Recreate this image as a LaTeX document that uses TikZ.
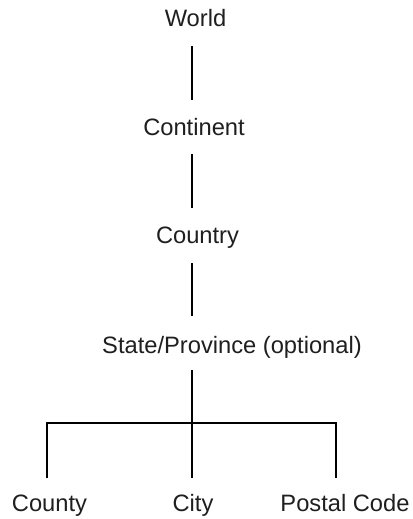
\documentclass[tikz,border=0pt]{standalone}
\usepackage{fontspec}
\setmainfont{Liberation Sans}
\usetikzlibrary{calc}
\begin{document}
\begin{tikzpicture}[x=1pt,y=1pt,
  lbl/.style={anchor=base,inner sep=0pt,text height=17pt,text depth=5pt,
    font=\fontsize{23.7}{28}\selectfont,text=black!88},
  conn/.style={line width=2.8pt,draw=black,line join=miter}]
\useasboundingbox[fill=white] (0,0) rectangle (412,-519);
\node[lbl] (world) at (195.5,-27) {World};
\node[lbl] (continent) at (194,-135) {Continent};
\node[lbl] (country) at (197.5,-243) {Country};
\node[lbl] (state) at (232,-353) {State/Province (optional)};
\node[lbl] (county) at (49.5,-511) {County};
\node[lbl] (city) at (193,-511) {City};
\node[lbl] (postal) at (345,-511) {Postal Code};
\coordinate (spine) at (192,-423);
\coordinate (lx) at (47,-423);
\coordinate (rx) at (336,-423);
\draw[conn] ($(world.south -| spine)+(0,-14)$) -- ($(continent.north -| spine)+(0,18)$);
\draw[conn] ($(continent.south -| spine)+(0,-14)$) -- ($(country.north -| spine)+(0,18)$);
\draw[conn] ($(country.south -| spine)+(0,-15)$) -- ($(state.north -| spine)+(0,20)$);
\draw[conn] ($(state.south -| spine)+(0,-12)$) -- ($(city.north -| spine)+(0,16)$);
\draw[conn] ($(county.north -| lx)+(0,16)$) -- (lx) -- (rx) -- ($(postal.north -| rx)+(0,16)$);
\end{tikzpicture}
\end{document}
